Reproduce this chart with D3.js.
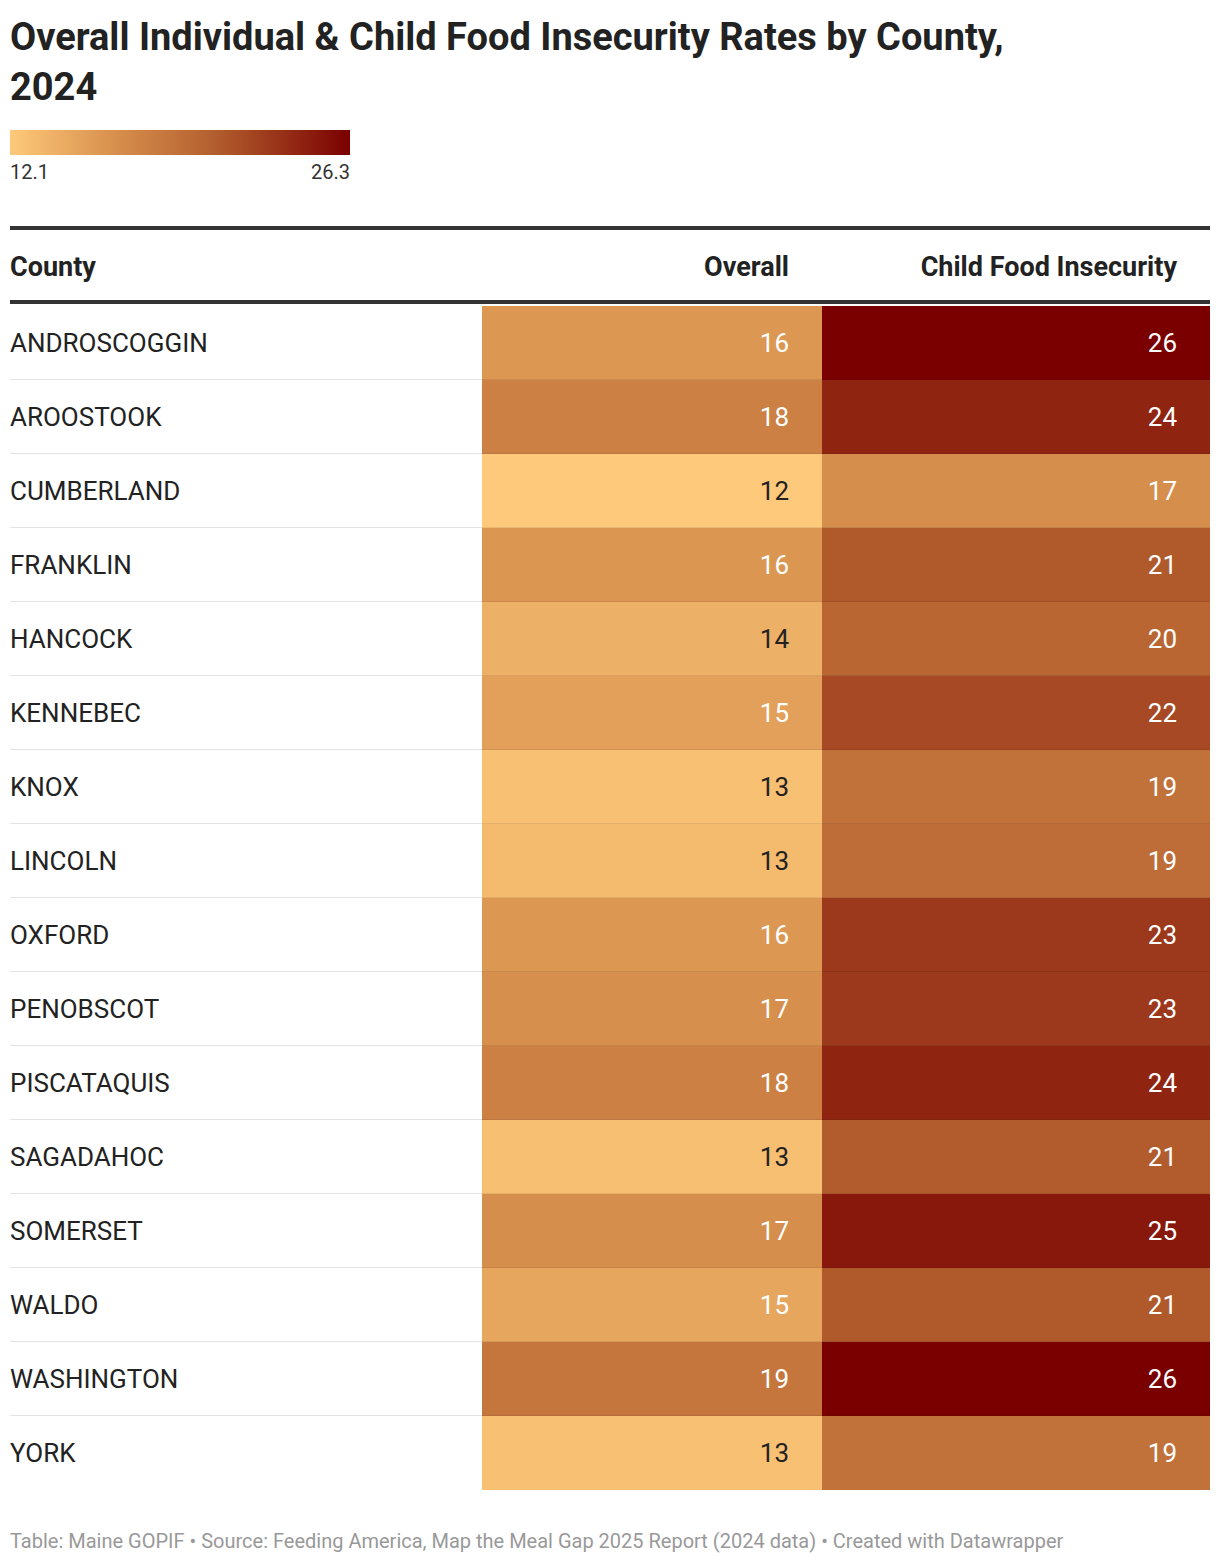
<!DOCTYPE html>
<html><head><meta charset="utf-8">
<script src="https://cdn.jsdelivr.net/npm/d3@7"></script>
<style>body{margin:0;background:#fff;font-family:Roboto,sans-serif}</style>
</head><body><svg id="c" width="1220" height="1564"></svg>
<script>
const counties=["ANDROSCOGGIN","AROOSTOOK","CUMBERLAND","FRANKLIN","HANCOCK","KENNEBEC","KNOX","LINCOLN","OXFORD","PENOBSCOT","PISCATAQUIS","SAGADAHOC","SOMERSET","WALDO","WASHINGTON","YORK"];
const overall=[15.9,17.8,12.1,16.0,14.0,15.2,12.8,13.2,15.9,16.5,17.8,12.9,16.6,14.8,18.6,12.8];
const child=[26.3,24.2,16.6,21.0,20.0,22.0,19.0,19.4,23.0,23.0,24.2,20.8,24.9,21.0,26.3,19.0];
const legendTicks=["12.1","26.3"];
const svg=d3.select("#c");
const color=d3.scaleLinear().domain([12.1,16.6,21,26.3]).range(["#fec97a","#d68e4c","#b05a2c","#7a0000"]);
svg.append("text").attr("x",10).attr("y",50).attr("font-size",38).attr("font-weight",700).attr("fill","#222").text("Overall Individual & Child Food Insecurity Rates by County,");
svg.append("text").attr("x",10).attr("y",100).attr("font-size",38).attr("font-weight",700).attr("fill","#222").text("2024");
const g=svg.append("defs").append("linearGradient").attr("id","lg");
d3.range(0,1.001,0.1).forEach(t=>g.append("stop").attr("offset",t).attr("stop-color",color(12.1+t*14.2)));
svg.append("rect").attr("x",10).attr("y",130).attr("width",340).attr("height",25).attr("fill","url(#lg)");
svg.append("text").attr("x",10).attr("y",179).attr("font-size",20).attr("fill","#333").text(legendTicks[0]);
svg.append("text").attr("x",350).attr("y",179).attr("font-size",20).attr("fill","#333").attr("text-anchor","end").text(legendTicks[1]);
svg.append("rect").attr("x",10).attr("y",226).attr("width",1200).attr("height",4).attr("fill","#333");
svg.append("rect").attr("x",10).attr("y",300).attr("width",1200).attr("height",4).attr("fill","#333");
[["County",10,"start"],["Overall",789,"end"],["Child Food Insecurity",1177,"end"]].forEach(h=>
 svg.append("text").attr("x",h[1]).attr("y",276).attr("font-size",27).attr("font-weight",700).attr("fill","#222").attr("text-anchor",h[2]).text(h[0]));
const y=d3.scaleBand().domain(counties).range([306,1490]);
const rows=svg.selectAll(".r").data(counties).join("g").attr("transform",d=>`translate(0,${y(d)})`);
const h=y.bandwidth();
rows.append("rect").attr("x",482).attr("width",340).attr("height",h).attr("fill",(d,i)=>color(overall[i]));
rows.append("rect").attr("x",822).attr("width",388).attr("height",h).attr("fill",(d,i)=>color(child[i]));
rows.filter((d,i)=>i<counties.length-1).append("line").attr("x1",10).attr("x2",482).attr("y1",h-0.5).attr("y2",h-0.5).attr("stroke","#e3e3e3");
rows.filter((d,i)=>i<counties.length-1).append("line").attr("x1",482).attr("x2",1210).attr("y1",h-0.5).attr("y2",h-0.5).attr("stroke","rgba(0,0,0,0.08)");
rows.append("text").attr("x",10).attr("y",h/2+9).attr("font-size",26).attr("fill","#222").text(d=>d);
rows.append("text").attr("x",789).attr("y",h/2+9).attr("font-size",26).attr("text-anchor","end").attr("fill",(d,i)=>overall[i]<14.5?"#222":"#fff").text((d,i)=>Math.round(overall[i]));
rows.append("text").attr("x",1177).attr("y",h/2+9).attr("font-size",26).attr("text-anchor","end").attr("fill",(d,i)=>child[i]<14.5?"#222":"#fff").text((d,i)=>Math.round(child[i]));
svg.append("text").attr("x",10).attr("y",1548).attr("font-size",20).attr("fill","#999").text("Table: Maine GOPIF • Source: Feeding America, Map the Meal Gap 2025 Report (2024 data) • Created with Datawrapper");
</script></body></html>
